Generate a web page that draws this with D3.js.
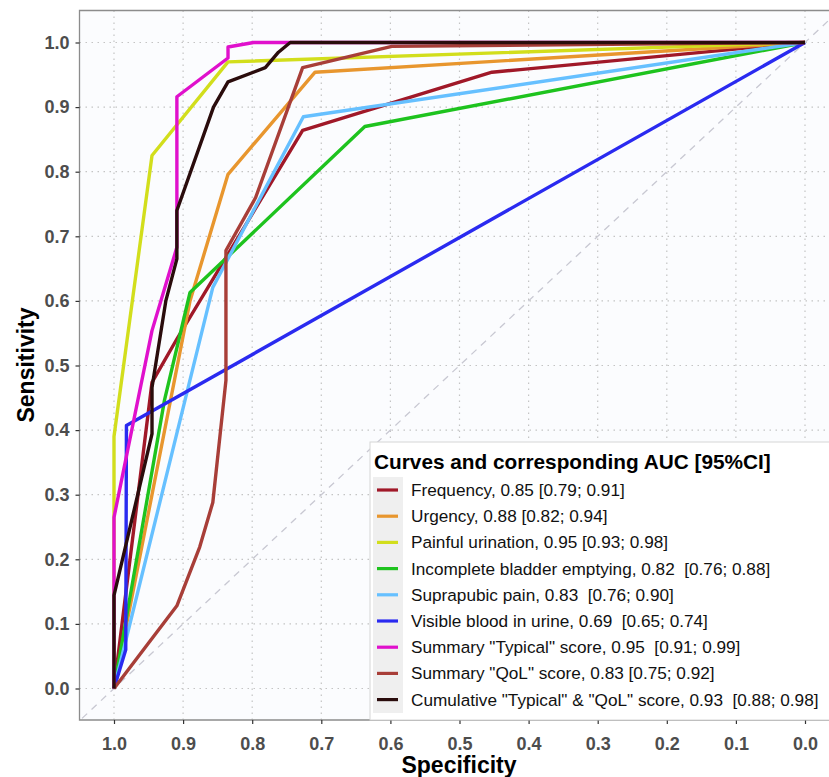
<!DOCTYPE html>
<html>
<head>
<meta charset="utf-8">
<script src="https://cdn.jsdelivr.net/npm/d3@7"></script>
<style>
  body { margin: 0; background: #fff; }
  text { font-family: "Liberation Sans", Arial, sans-serif; white-space: pre; }
</style>
</head>
<body>
<script>
const w = 829, h = 777;

// curve names / legend labels / colours
const labels = [
  "Frequency, 0.85 [0.79; 0.91]",
  "Urgency, 0.88 [0.82; 0.94]",
  "Painful urination, 0.95 [0.93; 0.98]",
  "Incomplete bladder emptying, 0.82  [0.76; 0.88]",
  "Suprapubic pain, 0.83  [0.76; 0.90]",
  "Visible blood in urine, 0.69  [0.65; 0.74]",
  "Summary \"Typical\" score, 0.95  [0.91; 0.99]",
  "Summary \"QoL\" score, 0.83 [0.75; 0.92]",
  "Cumulative \"Typical\" & \"QoL\" score, 0.93  [0.88; 0.98]"
];
const colors = ["#A01828", "#E8962E", "#D2DE1C", "#1EC31E", "#66C0FF",
                "#2A2AF0", "#E010CC", "#A83E38", "#2A0C0C"];

// ROC points: [specificity, sensitivity]
const frequency = [[1,0],[0.945,0.474],[0.909,0.541],[0.727,0.864],[0.453,0.954],[0.412,0.958],[0,1]];
const urgency = [[1,0],[0.89,0.6],[0.835,0.796],[0.709,0.954],[0,1]];
const painful = [[1,0],[1,0.265],[1,0.39],[0.945,0.825],[0.835,0.97],[0,1]];
const incomplete = [[1,0],[0.927,0.446],[0.89,0.613],[0.637,0.87],[0,1]];
const suprapubic = [[1,0],[0.857,0.621],[0.726,0.885],[0,1]];
const blood = [[1,0],[0.983,0.06],[0.982,0.407],[0,1]];
const typical = [[1,0],[1,0.147],[1,0.265],[0.945,0.554],[0.909,0.683],[0.909,0.916],[0.835,0.976],[0.835,0.993],[0.798,1],[0.745,1],[0,1]];
const qol = [[1,0],[0.909,0.128],[0.876,0.219],[0.857,0.288],[0.838,0.477],[0.838,0.678],[0.795,0.76],[0.727,0.961],[0.598,0.994],[0,1]];
const cumulative = [[1,0],[1,0.144],[0.945,0.394],[0.945,0.466],[0.925,0.6],[0.909,0.665],[0.909,0.74],[0.856,0.9],[0.835,0.939],[0.781,0.961],[0.762,0.985],[0.745,1],[0,1]];
const curves = [frequency, urgency, painful, incomplete, suprapubic, blood, typical, qol, cumulative];

const ticks = [1.0, 0.9, 0.8, 0.7, 0.6, 0.5, 0.4, 0.3, 0.2, 0.1, 0.0];

const panel = {left: 79.5, top: 10.5, right: 840, bottom: 720};

const x = d3.scaleLinear().domain([1, 0]).range([114, 805]);
const y = d3.scaleLinear().domain([0, 1]).range([688.5, 42.5]);

const svg = d3.select("body").append("svg")
  .attr("width", w).attr("height", h);

svg.append("rect").attr("width", w).attr("height", h).attr("fill", "#fff");

svg.append("clipPath").attr("id", "clip")
  .append("rect")
  .attr("x", panel.left).attr("y", panel.top)
  .attr("width", panel.right - panel.left).attr("height", panel.bottom - panel.top);

svg.append("rect")
  .attr("x", panel.left).attr("y", panel.top)
  .attr("width", panel.right - panel.left).attr("height", panel.bottom - panel.top)
  .attr("fill", "#FBFCFE");

// grid
const grid = svg.append("g").attr("clip-path", "url(#clip)");
grid.selectAll(".gx").data(ticks).enter().append("line")
  .attr("x1", d => x(d)).attr("x2", d => x(d))
  .attr("y1", panel.top).attr("y2", panel.bottom)
  .attr("stroke", "#C4C4C4").attr("stroke-width", 1.2).attr("stroke-dasharray", "1.5,4.5");
grid.selectAll(".gy").data(ticks).enter().append("line")
  .attr("y1", d => y(d)).attr("y2", d => y(d))
  .attr("x1", panel.left).attr("x2", panel.right)
  .attr("stroke", "#C4C4C4").attr("stroke-width", 1.2).attr("stroke-dasharray", "1.5,4.5");

// chance diagonal
grid.append("line")
  .attr("x1", x(1.06)).attr("y1", y(-0.06))
  .attr("x2", x(-0.06)).attr("y2", y(1.06))
  .attr("stroke", "#C8C8D2").attr("stroke-width", 1.3).attr("stroke-dasharray", "7,6");

// curves
const line = d3.line().x(d => x(d[0])).y(d => y(d[1]));
grid.selectAll(".curve").data(curves).enter().append("path")
  .attr("d", line)
  .attr("fill", "none")
  .attr("stroke", (d, i) => colors[i])
  .attr("stroke-width", 3.4)
  .attr("stroke-linejoin", "round");

// panel border
svg.append("path")
  .attr("d", `M${panel.right},${panel.top}H${panel.left}V${panel.bottom}H${panel.right}`)
  .attr("fill", "none").attr("stroke", "#8C8C8C").attr("stroke-width", 1.3);

// axes
const xAxis = svg.append("g").attr("transform", `translate(0,${panel.bottom})`)
  .call(d3.axisBottom(x).tickValues(ticks).tickFormat(d3.format(".1f")).tickSize(4).tickPadding(13));
const yAxis = svg.append("g").attr("transform", `translate(${panel.left},0)`)
  .call(d3.axisLeft(y).tickValues(ticks).tickFormat(d3.format(".1f")).tickSize(4).tickPadding(6));
[xAxis, yAxis].forEach(a => {
  a.select(".domain").remove();
  a.selectAll(".tick line").attr("stroke", "#333").attr("stroke-width", 1.2);
  a.selectAll(".tick text").attr("fill", "#4D4D4D")
    .style("font-size", "18px").style("font-weight", "bold");
});

svg.append("text").attr("x", 459).attr("y", 773)
  .attr("text-anchor", "middle")
  .style("font-size", "23px").style("font-weight", "bold").text("Specificity");
svg.append("text").attr("transform", "translate(34,365) rotate(-90)")
  .attr("text-anchor", "middle")
  .style("font-size", "23px").style("font-weight", "bold").text("Sensitivity");

// legend
const lg = svg.append("g").attr("transform", "translate(370,442)");
lg.append("rect").attr("x", 0).attr("y", 0).attr("width", 470).attr("height", 278)
  .attr("fill", "#fff").attr("stroke", "#D6D6D6").attr("stroke-width", 1);
lg.append("text").attr("x", 4).attr("y", 27)
  .style("font-size", "20.8px").style("font-weight", "bold")
  .text("Curves and corresponding AUC [95%CI]");
lg.append("rect").attr("x", 3).attr("y", 35).attr("width", 30).attr("height", 236)
  .attr("fill", "#EFEFEF");
const rows = lg.selectAll(".row").data(labels).enter().append("g")
  .attr("transform", (d, i) => `translate(0,${48 + i * 26.2})`);
rows.append("line").attr("x1", 7).attr("x2", 28)
  .attr("stroke", (d, i) => colors[i]).attr("stroke-width", 3.2);
rows.append("text").attr("x", 41).attr("y", 6)
  .style("font-size", "17.2px").attr("fill", "#111").text(d => d);
</script>
</body>
</html>
